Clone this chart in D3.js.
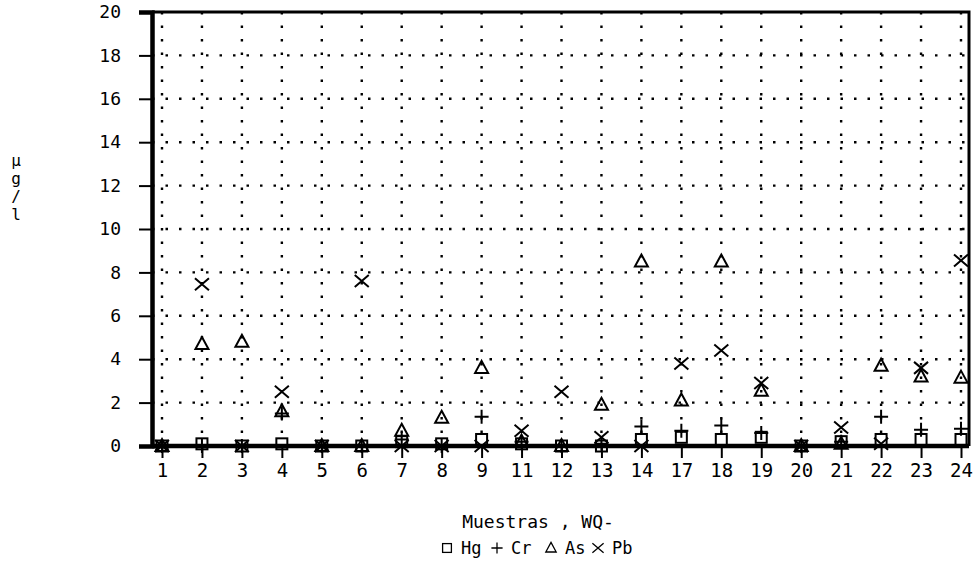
<!DOCTYPE html>
<html>
<head>
<meta charset="utf-8">
<script src="https://cdn.jsdelivr.net/npm/d3@7"></script>
<style>
  body { margin: 0; background: #fff; }
  text { font-family: "DejaVu Sans Mono", monospace; fill: #000; }
</style>
</head>
<body>
<svg width="975" height="580"></svg>
<script>
var samples = ['1','2','3','4','5','6','7','8','9','11','12','13','14','17','18','19','20','21','22','23','24'];
var hgVals = [0,0.1,0,0.1,0,0,0.2,0.1,0.3,0.1,0,0,0.3,0.4,0.3,0.4,0,0.2,0.3,0.3,0.3];
var crVals = [0,0,0,1.5,0,0,0.3,0,1.35,0.2,0,0.1,0.9,0.7,0.95,0.6,0,0.2,1.35,0.75,0.8];
var asVals = [0,4.7,4.8,1.6,0,0,0.7,1.3,3.6,0.2,0,1.9,8.5,2.1,8.5,2.55,0,0.1,3.7,3.2,3.15];
var pbVals = [0,7.45,0,2.5,0,7.6,0,0,0,0.7,2.5,0.4,0,3.8,4.4,2.9,0,0.85,0.1,3.6,8.55];
var yTicks = [0,2,4,6,8,10,12,14,16,18,20];
var seriesNames = ['Hg','Cr','As','Pb'];

var plotLeft = 152, plotRight = 969, plotTop = 12, plotBottom = 446;

var svg = d3.select('svg');

var x = d3.scalePoint().domain(samples).range([162, 961]);
var y = d3.scaleLinear().domain([0, 20]).range([plotBottom, plotTop]);

// marker shapes
var shapes = {
  Hg: function(g) { g.append('rect').attr('x', -5.5).attr('y', -5.5).attr('width', 11).attr('height', 11); },
  Cr: function(g) { g.append('path').attr('d', 'M-7,0H7M0,-7V7'); },
  As: function(g) { g.append('path').attr('d', 'M0,-7L6.5,5L-6.5,5Z'); },
  Pb: function(g) { g.append('path').attr('d', 'M-7,-6L7,6M-7,6L7,-6'); }
};

// dotted grid
svg.append('g')
  .selectAll('line')
  .data(samples)
  .enter()
  .append('line')
  .attr('x1', function(d) { return x(d); })
  .attr('x2', function(d) { return x(d); })
  .attr('y1', plotTop)
  .attr('y2', plotBottom)
  .attr('stroke', '#000')
  .attr('stroke-width', 2.4)
  .attr('stroke-dasharray', '2.5,11');

svg.append('g')
  .selectAll('line')
  .data(yTicks.slice(1, -1))
  .enter()
  .append('line')
  .attr('x1', plotLeft)
  .attr('x2', plotRight)
  .attr('y1', function(d) { return y(d); })
  .attr('y2', function(d) { return y(d); })
  .attr('stroke', '#000')
  .attr('stroke-width', 2.4)
  .attr('stroke-dasharray', '2.5,11');

// frame
svg.append('path')
  .attr('d', 'M' + plotLeft + ',' + plotTop + 'H' + plotRight + 'V' + plotBottom)
  .attr('fill', 'none')
  .attr('stroke', '#000')
  .attr('stroke-width', 3);

// y axis
var yAxis = svg.append('g')
  .attr('transform', 'translate(' + plotLeft + ',0)')
  .call(d3.axisLeft(y).tickValues(yTicks).tickSize(13).tickPadding(18));
yAxis.select('.domain').attr('stroke-width', 4.5);
yAxis.selectAll('.tick line').attr('stroke-width', 2);
yAxis.selectAll('.tick text')
  .style('font-size', '18px')
  .style('font-family', '"DejaVu Sans Mono", monospace');

// x axis
var xAxis = svg.append('g')
  .attr('transform', 'translate(0,' + plotBottom + ')')
  .call(d3.axisBottom(x).tickSize(12).tickPadding(6));
xAxis.select('.domain').attr('d', 'M' + plotLeft + ',0H' + plotRight).attr('stroke-width', 4.5);
xAxis.selectAll('.tick line').attr('stroke-width', 2);
xAxis.selectAll('.tick text')
  .style('font-size', '19px')
  .style('font-family', '"DejaVu Sans Mono", monospace');

// markers
var series = [
  { name: 'Hg', values: hgVals },
  { name: 'Cr', values: crVals },
  { name: 'As', values: asVals },
  { name: 'Pb', values: pbVals }
];

series.forEach(function(s) {
  svg.append('g')
    .selectAll('g')
    .data(s.values)
    .enter()
    .append('g')
    .attr('transform', function(d, i) { return 'translate(' + x(samples[i]) + ',' + y(d) + ')'; })
    .attr('fill', 'none')
    .attr('stroke', '#000')
    .attr('stroke-width', 2)
    .each(function() { shapes[s.name](d3.select(this)); });
});

// y label, stacked
var yLabel = ['\u00b5', 'g', '/', 'l'];
svg.append('g')
  .selectAll('text')
  .data(yLabel)
  .enter()
  .append('text')
  .attr('x', 16)
  .attr('y', function(d, i) { return 166 + i * 18; })
  .attr('text-anchor', 'middle')
  .style('font-size', '16px')
  .text(function(d) { return d; });

// x title
svg.append('text')
  .attr('x', 538)
  .attr('y', 528)
  .attr('text-anchor', 'middle')
  .style('font-size', '18px')
  .text('Muestras , WQ-');

// legend
var legendX = [447, 497, 551, 598];
var legend = svg.append('g')
  .selectAll('g')
  .data(seriesNames)
  .enter()
  .append('g')
  .attr('transform', function(d, i) { return 'translate(' + legendX[i] + ',548)'; });
legend.append('g')
  .attr('fill', 'none')
  .attr('stroke', '#000')
  .attr('stroke-width', 1.6)
  .each(function(d) { shapes[d](d3.select(this)); })
  .attr('transform', 'scale(0.8)');
legend.append('text')
  .attr('x', 14)
  .attr('y', 6)
  .style('font-size', '17px')
  .text(function(d) { return d; });
</script>
</body>
</html>
